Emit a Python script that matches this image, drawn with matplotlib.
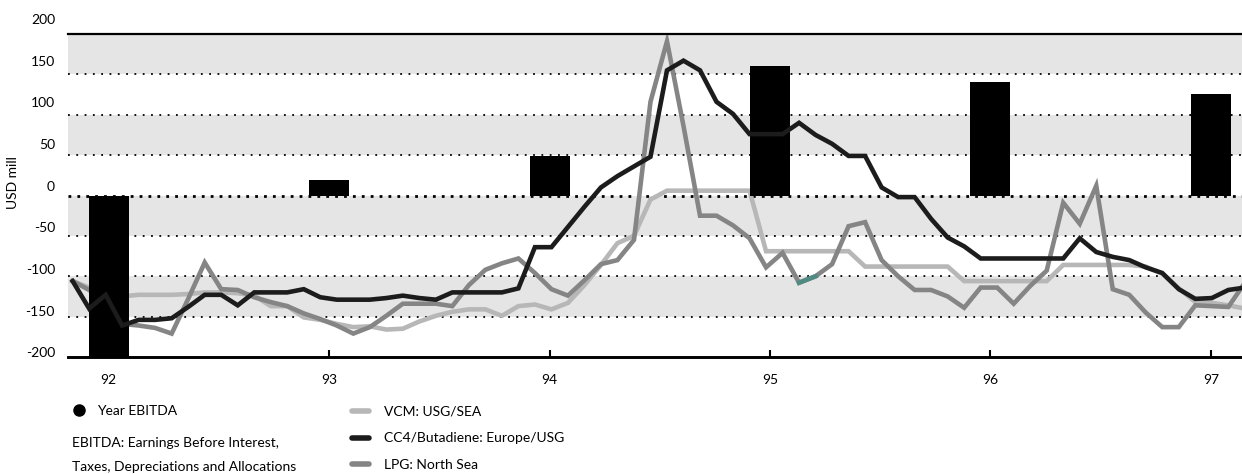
import numpy as np
import matplotlib.pyplot as plt
from matplotlib.lines import Line2D
from matplotlib.transforms import ScaledTranslation, blended_transform_factory

plt.rcParams['font.family'] = ['Lato', 'DejaVu Sans']

# yearly EBITDA, USD mill
years = [92, 93, 94, 95, 96, 97]
ebitda = [-200, 19, 49, 160, 140, 126]

# period margins, USD mill
vcm = [-106, -114, -119, -125, -123, -123, -123, -122, -120, -120,
       -121, -124, -137, -137, -151, -154, -159, -163, -162, -166,
       -165, -156, -149, -144, -141, -141, -149, -137, -135, -141,
       -133, -111, -86, -59, -50, -5, 6, 6, 6, 6,
       6, 6, -69, -69, -69, -69, -69, -69, -88, -88,
       -88, -88, -88, -88, -106, -106, -106, -106, -106, -106,
       -86, -86, -86, -86, -86, -88, -97, -115, -132, -133,
       -136, -140]
cc4 = [-106, -140, -123, -161, -154, -154, -152, -138, -123, -123,
       -136, -120, -120, -120, -116, -126, -129, -129, -129, -127,
       -124, -127, -129, -120, -120, -120, -120, -115, -64, -64,
       -39, -14, 10, 24, 36, 48, 155, 167, 155, 116,
       101, 76, 76, 76, 90, 75, 64, 49, 49, 10,
       -2, -2, -29, -52, -63, -78, -78, -78, -78, -78,
       -78, -53, -70, -76, -80, -89, -96, -116, -128, -127,
       -117, -114]
lpg = [-106, -117, -130, -159, -161, -164, -171, -128, -83, -116,
       -117, -126, -132, -137, -146, -153, -161, -171, -163, -149,
       -134, -134, -134, -137, -111, -92, -84, -78, -96, -116,
       -124, -105, -85, -80, -55, 116, 191, 86, -25, -25,
       -37, -53, -89, -71, -108, -100, -85, -38, -33, -80,
       -100, -117, -117, -125, -139, -114, -114, -134, -112, -93,
       -9, -35, 12, -116, -123, -145, -163, -163, -136, -137,
       -138, -108]

period_start = 91.836
period_step = 0.0749  # years per reporting period
periods = period_start + period_step * np.arange(len(cc4))

W, H = 1242, 474
fig = plt.figure(figsize=(W / 100, H / 100), dpi=100)
ax = fig.add_axes([68 / W, 117 / H, 1174 / W, 323 / H])

# alternating bands and dotted grid
for lo, hi in [(150, 200), (50, 100), (-50, 0), (-150, -100)]:
    ax.axhspan(lo, hi, color='#e5e5e5', lw=0, zorder=0)
for lvl in [150, 100, 50, -50, -100, -150]:
    ax.axhline(lvl, color='black', lw=1.3, ls=(0, (1, 3.6)), zorder=1)
ax.axhline(0, color='black', lw=2.0, ls=(0, (1, 2.2)), zorder=1)

lw = 3.3
ax.plot(periods, vcm, color='#b7b7b7', lw=lw, zorder=2, solid_joinstyle='miter')
ax.plot(periods, lpg, color='#858585', lw=lw, zorder=3, solid_joinstyle='miter')
ax.plot(periods[44:46], lpg[44:46], color='#4f8b83', lw=lw, zorder=3.1)
ax.bar(years, ebitda, width=0.1815, color='black', zorder=4)
ax.plot(periods, cc4, color='#1c1c1c', lw=lw, zorder=5, solid_joinstyle='miter')

ax.set_xlim(91.815, 97.141)
ax.set_ylim(-200, 200)

for side in ['left', 'right']:
    ax.spines[side].set_visible(False)
ax.spines['top'].set_linewidth(1.6)
ax.spines['bottom'].set_linewidth(2.1)
ax.spines['top'].set_zorder(6)
ax.spines['bottom'].set_zorder(6)

ax.set_xticks(years)
ax.set_xticklabels([str(y) for y in years])
ax.tick_params(axis='x', direction='in', length=5, width=1.5, pad=12, labelsize=10)
ax.set_yticks([])

# y labels sit a little above their grid lines
ytrans = blended_transform_factory(ax.transAxes, ax.transData)
for v in range(-200, 201, 50):
    lift = (14 - (200 - v) * 0.026) / 100
    ax.text(-13 / 1174, v, str(v), ha='right', va='center', fontsize=10,
            transform=ytrans + ScaledTranslation(0, lift, fig.dpi_scale_trans))

fig.text(13 / W, 1 - 183 / H, 'USD mill', rotation=90, ha='center', va='center', fontsize=10)

# legends
dot = Line2D([], [], marker='o', color='black', ls='none', markersize=8)
fig.legend([dot], ['Year EBITDA'], loc='center left',
           bbox_to_anchor=(71 / W, 1 - 411 / H), frameon=False,
           handlelength=1.15, handletextpad=0.75, borderpad=0,
           borderaxespad=0, fontsize=10)
fig.text(72 / W, 1 - 443 / H, 'EBITDA: Earnings Before Interest,', va='center', fontsize=10)
fig.text(72 / W, 1 - 467 / H, 'Taxes, Depreciations and Allocations', va='center', fontsize=10)

handles = [Line2D([], [], color=c, lw=4, solid_capstyle='round')
           for c in ['#b7b7b7', '#1c1c1c', '#858585']]
fig.legend(handles, ['VCM: USG/SEA', 'CC4/Butadiene: Europe/USG', 'LPG: North Sea'],
           loc='center left', bbox_to_anchor=(352 / W, 1 - 438.5 / H), frameon=False,
           handlelength=1.2, handletextpad=1.12, borderpad=0, borderaxespad=0,
           labelspacing=1.05, fontsize=10)

fig.savefig('out.png', dpi=100)
